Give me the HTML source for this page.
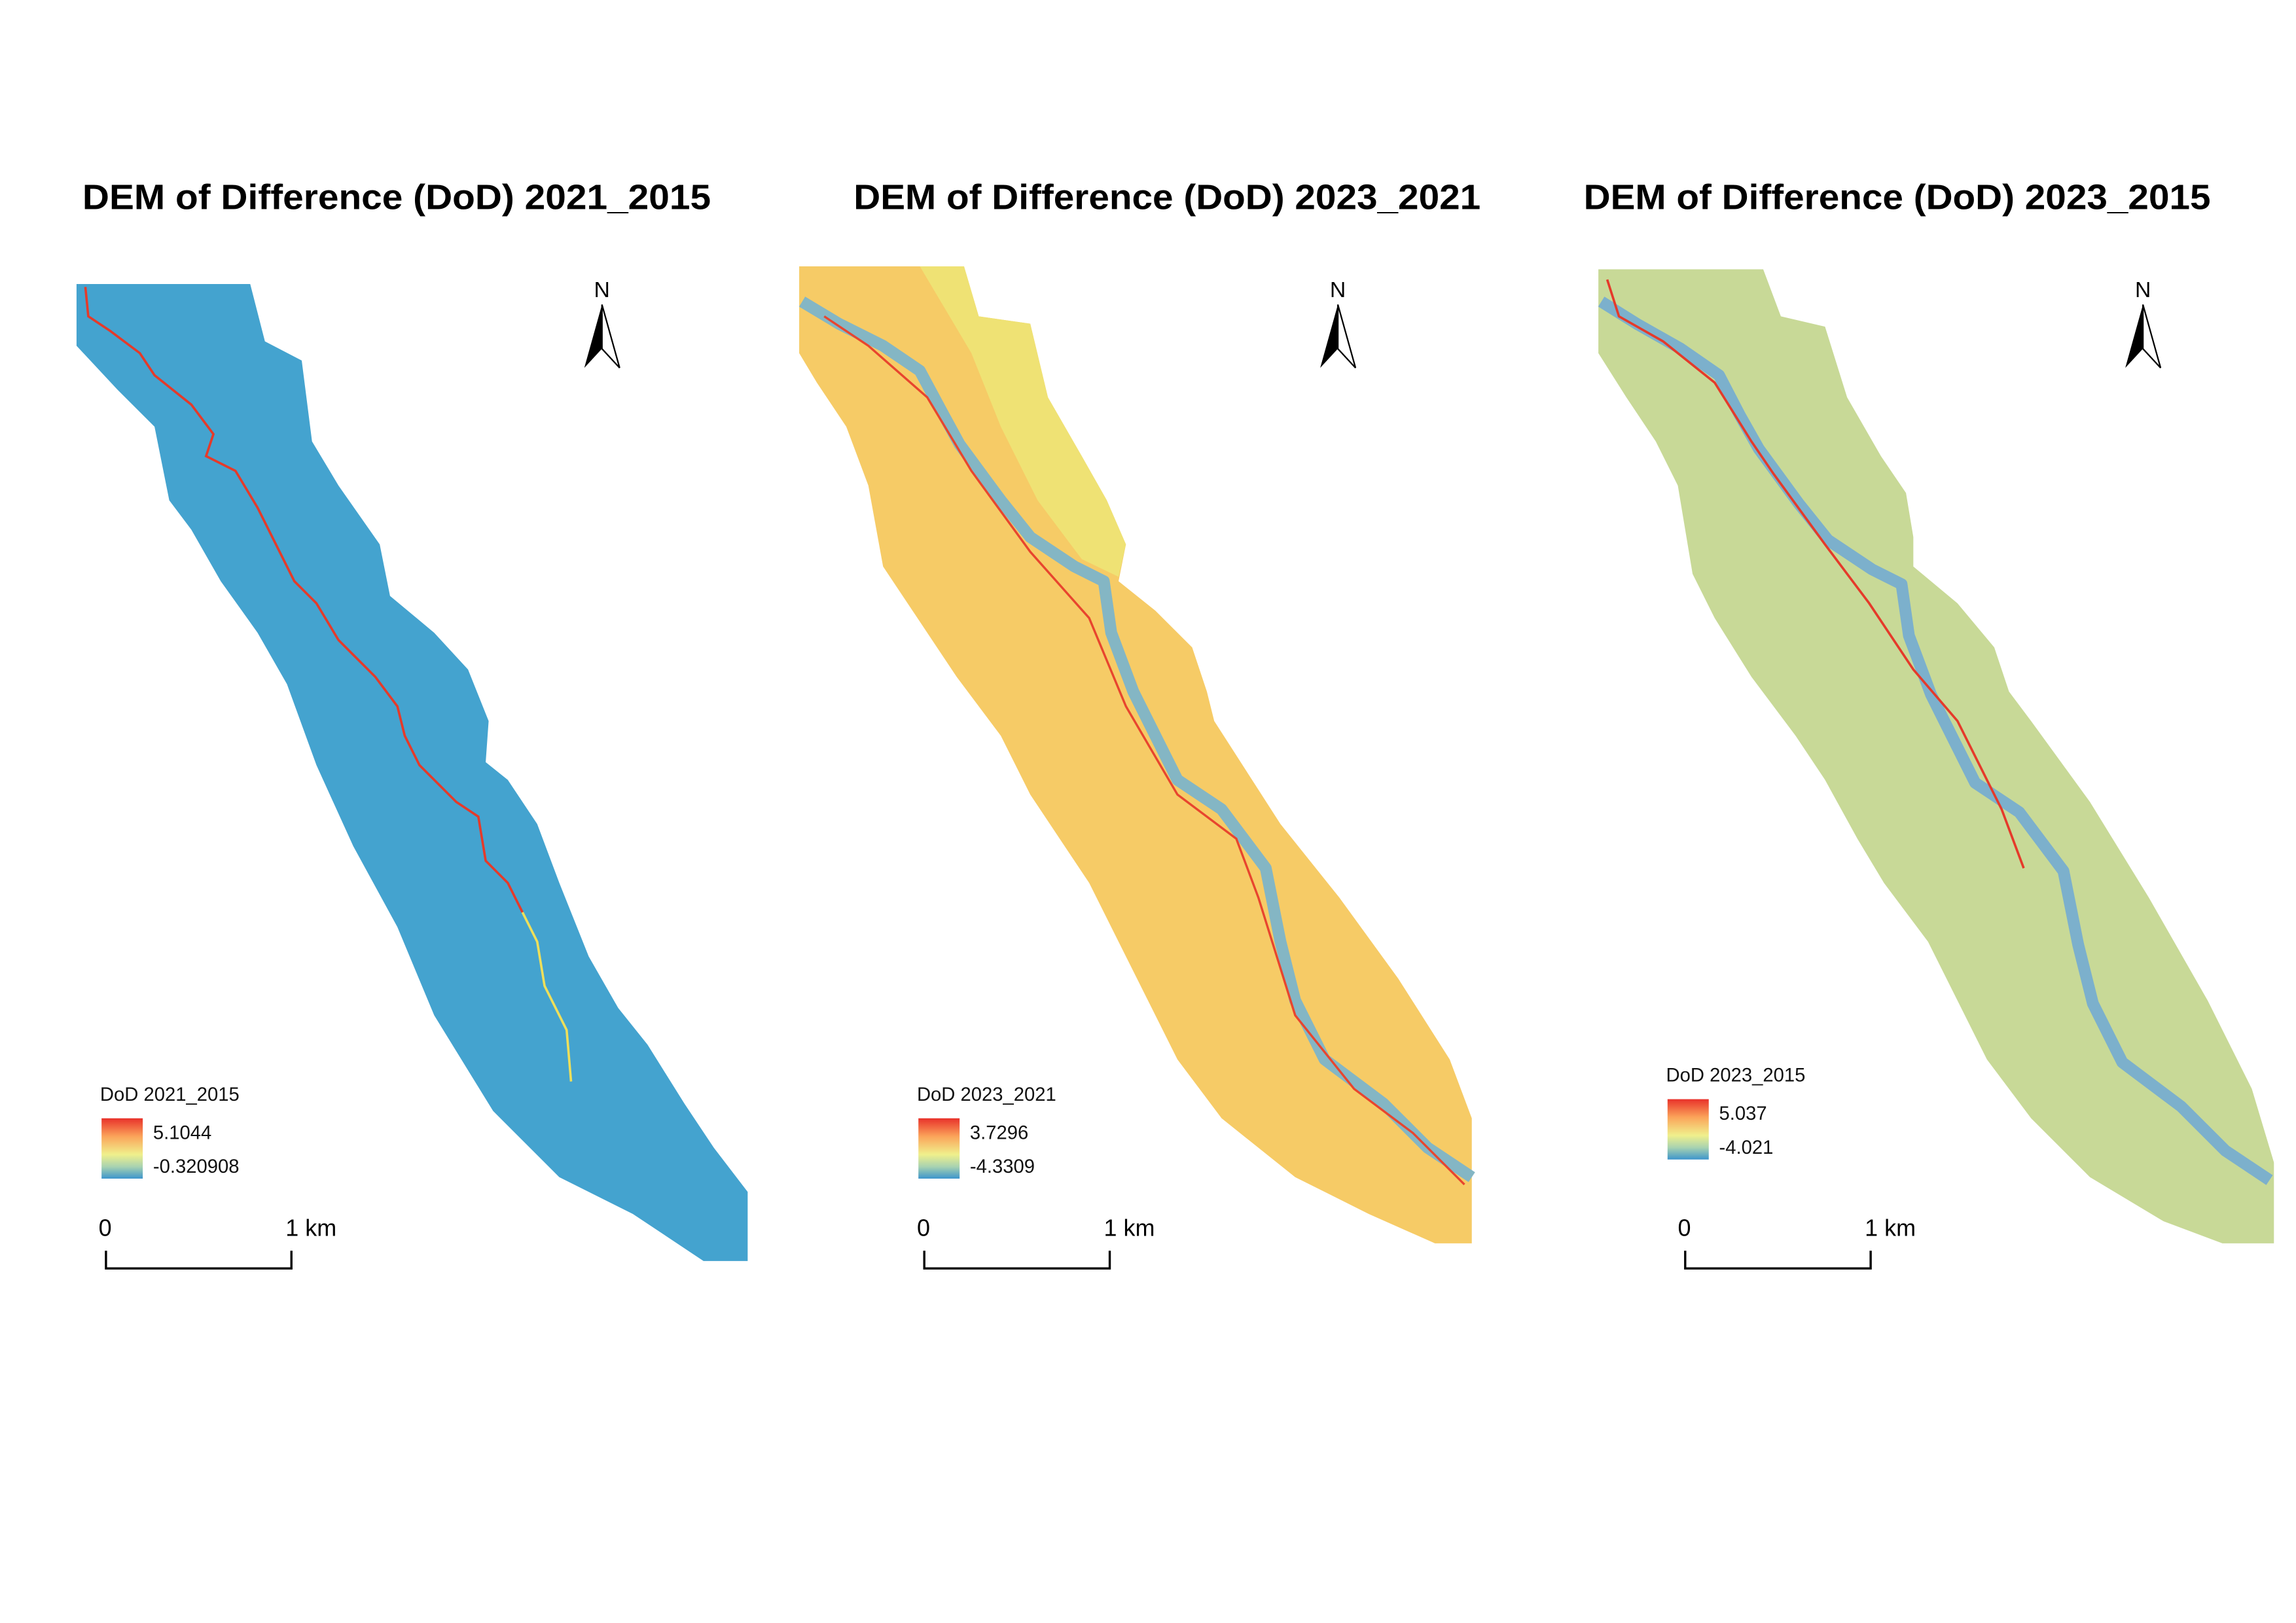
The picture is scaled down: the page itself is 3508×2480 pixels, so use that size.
<!DOCTYPE html>
<html><head><meta charset="utf-8">
<style>
html,body{margin:0;padding:0;background:#fff;}
svg{display:block;}
text{font-family:"Liberation Sans",sans-serif;}
</style></head>
<body>
<svg id="fig" width="3508" height="2480" viewBox="0 0 1560 1103" preserveAspectRatio="none" xmlns="http://www.w3.org/2000/svg">
<defs>
<linearGradient id="rdylbu" x1="0" y1="0" x2="0" y2="1">
<stop offset="0" stop-color="#e8312a"/><stop offset="0.3" stop-color="#fba45a"/>
<stop offset="0.6" stop-color="#f0f08c"/><stop offset="0.8" stop-color="#a9d3b0"/><stop offset="1" stop-color="#3d95cc"/>
</linearGradient>
</defs>

<text x="56" y="142" font-size="24" font-weight="bold" textLength="427" lengthAdjust="spacingAndGlyphs">DEM of Difference (DoD) 2021_2015</text>
<text x="580" y="142" font-size="24" font-weight="bold" textLength="426" lengthAdjust="spacingAndGlyphs">DEM of Difference (DoD) 2023_2021</text>
<text x="1076" y="142" font-size="24" font-weight="bold" textLength="426" lengthAdjust="spacingAndGlyphs">DEM of Difference (DoD) 2023_2015</text>

<!-- Panel 1 -->
<polygon fill="#44a3cf" points="52,193 170,193 180,232 205,245 212,300 230,330 258,370 265,405 295,430 318,455 332,490 330,518 345,530 365,560 380,600 400,650 420,685 440,710 465,750 485,780 508,810 508,857 478,857 430,825 380,800 335,755 295,690 270,630 240,575 215,520 195,465 175,430 150,395 130,360 115,340 105,290 80,265 52,235"/>
<polyline fill="none" stroke="#e53a2a" stroke-width="1.6" points="58,195 60,215 75,225 95,240 105,255 130,275 145,295 140,310 160,320 175,345 190,375 200,395 215,410 230,435 240,445 255,460 270,480 275,500 285,520 310,545 325,555 330,585 345,600 355,620"/>
<polyline fill="none" stroke="#eedf5a" stroke-width="1.6" points="355,620 365,640 370,670 385,700 388,735"/>

<!-- Panel 2 -->
<polygon fill="#f6cb66" points="543,181 655,181 665,215 700,220 712,270 735,310 752,340 765,370 760,395 785,415 810,440 820,470 825,490 870,560 910,610 950,665 985,720 1000,760 1000,845 975,845 930,825 880,800 830,760 800,720 780,680 760,640 740,600 720,570 700,540 680,500 650,460 620,415 600,385 590,330 575,290 555,260 543,240"/>
<polygon fill="#efe274" points="625,181 655,181 665,215 700,220 712,270 735,310 752,340 765,370 760,392 735,380 705,340 680,290 660,240"/>
<polyline fill="none" stroke="#84b6c4" stroke-width="8" stroke-linejoin="round" points="545,205 570,220 600,235 625,252 640,280 652,302 680,340 700,365 730,385 750,395 755,430 770,470 785,500 800,530 830,550 860,590 870,640 880,680 900,720 940,750 970,780 1000,800"/>
<polyline fill="none" stroke="#e8452e" stroke-width="1.5" points="560,215 590,235 630,270 660,320 700,375 740,420 765,480 800,540 840,570 855,610 880,690 920,740 960,770 995,805"/>

<!-- Panel 3 -->
<polygon fill="#c8d997" points="1086,183 1198,183 1210,215 1240,222 1255,270 1278,310 1295,335 1300,365 1300,385 1330,410 1355,440 1365,470 1380,490 1420,545 1460,610 1500,680 1530,740 1545,790 1545,845 1510,845 1470,830 1420,800 1380,760 1350,720 1330,680 1310,640 1280,600 1262,570 1240,530 1220,500 1190,460 1165,420 1150,390 1140,330 1125,300 1105,270 1086,240"/>
<polyline fill="none" stroke="#7cb0cc" stroke-width="8" stroke-linejoin="round" points="1088,205 1112,220 1142,237 1168,255 1182,282 1195,305 1222,342 1242,367 1272,387 1292,397 1297,432 1312,472 1327,502 1342,532 1372,552 1402,592 1412,642 1422,682 1442,722 1482,752 1512,782 1542,802"/>
<polyline fill="none" stroke="#e53a2a" stroke-width="1.6" points="1092,190 1100,215 1130,232 1165,260 1190,300 1205,322 1240,370 1270,410 1300,455 1330,490 1360,550 1375,590"/>
</svg>

<script>
const legendTitles = ["DoD 2021_2015", "DoD 2023_2021", "DoD 2023_2015"];
const legendMax = ["5.1044", "3.7296", "5.037"];
const legendMin = ["-0.320908", "-4.3309", "-4.021"];
const scaleLabels = ["0", "1 km"];

const NS = "http://www.w3.org/2000/svg";
const svg = document.getElementById("fig");
const legendPos = [[68, 748], [623, 748], [1132, 735]];
const scalePos = [[72, 862], [628, 862], [1145, 862]];
const northPos = [409, 909, 1456];

function mk(tag, attrs, text) {
  const e = document.createElementNS(NS, tag);
  for (const k in attrs) e.setAttribute(k, attrs[k]);
  if (text !== undefined) e.textContent = text;
  svg.appendChild(e);
  return e;
}

for (let i = 0; i < 3; i++) {
  const [lx, ly] = legendPos[i];
  const t = mk("text", {x: lx, y: ly, "font-size": 13, fill: "#111"}, legendTitles[i]);
  
  
  const r = mk("rect", {x: lx + 1, y: ly + 12, width: 28, height: 41, fill: "url(#rdylbu)"});
  
  
  const a = mk("text", {x: lx + 36, y: ly + 26, "font-size": 13, fill: "#111"}, legendMax[i]);
  
  
  const b = mk("text", {x: lx + 36, y: ly + 49, "font-size": 13, fill: "#111"}, legendMin[i]);
  
  

  const [sx, sy] = scalePos[i];
  const p = mk("path", {d: `M${sx},${sy-12} V${sy} H${sx+126} V${sy-12}`, fill: "none", stroke: "#000", "stroke-width": 1.5});
  
  
  const s0 = mk("text", {x: sx - 5, y: sy - 22, "font-size": 16}, scaleLabels[0]);
  
  
  const s1 = mk("text", {x: sx + 122, y: sy - 22, "font-size": 16}, scaleLabels[1]);
  
  

  const nx = northPos[i];
  const n = mk("text", {x: nx, y: 202, "font-size": 15, "text-anchor": "middle"}, "N");
  
  
  const ar = mk("path", {d: `M${nx},207 L${nx-12},250 L${nx},237 Z`, fill: "#000"});
  
  
  const ar2 = mk("path", {d: `M${nx},207 L${nx+12},250 L${nx},237 Z`, fill: "#fff", stroke: "#000", "stroke-width": 1});
  
  
}
</script>
</body></html>
